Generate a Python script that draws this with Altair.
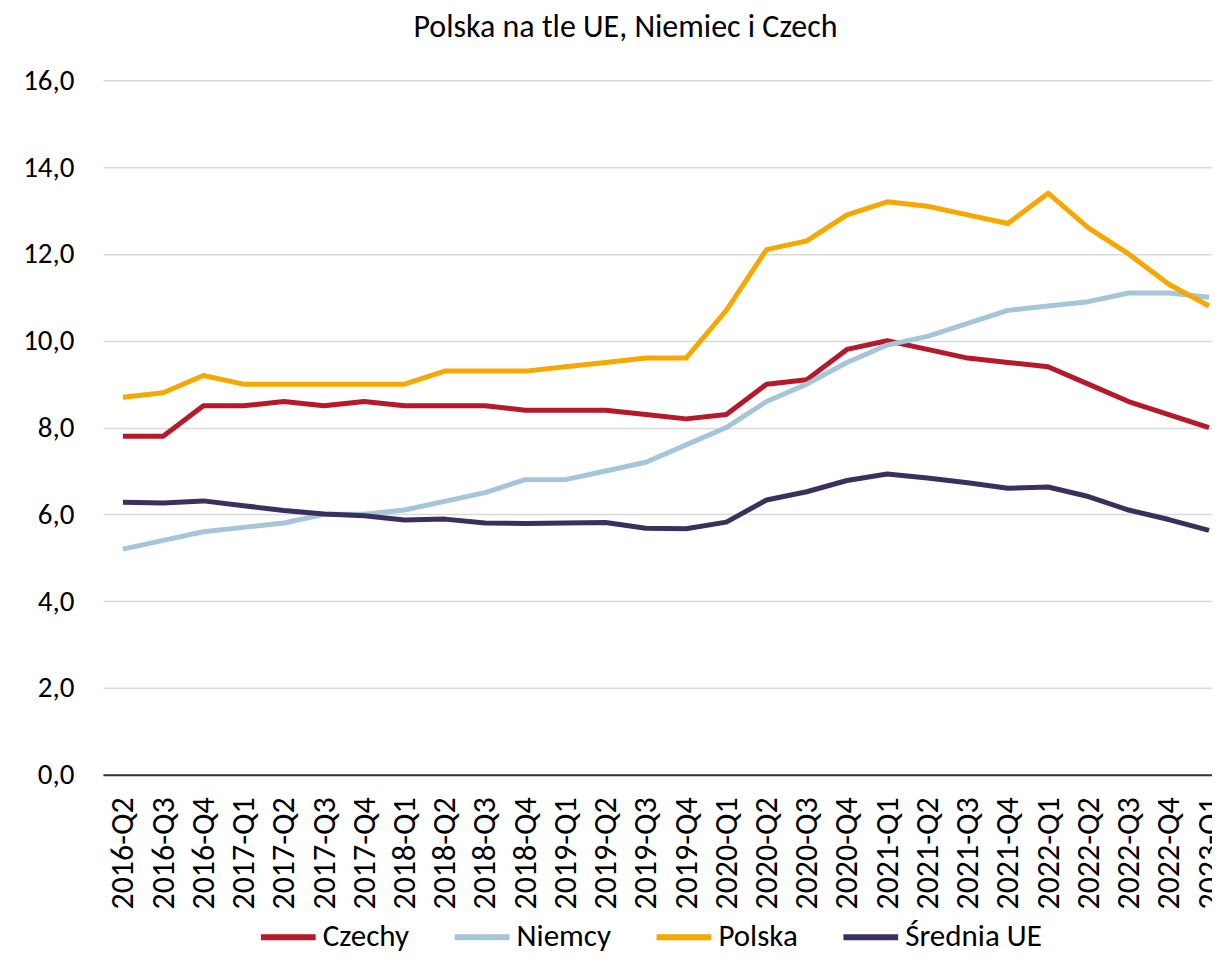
import altair as alt
import pandas as pd

quarters = ["2016-Q2", "2016-Q3", "2016-Q4", "2017-Q1", "2017-Q2", "2017-Q3", "2017-Q4",
            "2018-Q1", "2018-Q2", "2018-Q3", "2018-Q4", "2019-Q1", "2019-Q2", "2019-Q3",
            "2019-Q4", "2020-Q1", "2020-Q2", "2020-Q3", "2020-Q4", "2021-Q1", "2021-Q2",
            "2021-Q3", "2021-Q4", "2022-Q1", "2022-Q2", "2022-Q3", "2022-Q4", "2023-Q1"]

czechy = [7.8, 7.8, 8.5, 8.5, 8.6, 8.5, 8.6, 8.5, 8.5, 8.5, 8.4, 8.4, 8.4, 8.3,
          8.2, 8.3, 9.0, 9.1, 9.8, 10.0, 9.8, 9.6, 9.5, 9.4, 9.0, 8.6, 8.3, 8.0]
niemcy = [5.2, 5.4, 5.6, 5.7, 5.8, 6.0, 6.0, 6.1, 6.3, 6.5, 6.8, 6.8, 7.0, 7.2,
          7.6, 8.0, 8.6, 9.0, 9.5, 9.9, 10.1, 10.4, 10.7, 10.8, 10.9, 11.1, 11.1, 11.0]
polska = [8.7, 8.8, 9.2, 9.0, 9.0, 9.0, 9.0, 9.0, 9.3, 9.3, 9.3, 9.4, 9.5, 9.6,
          9.6, 10.7, 12.1, 12.3, 12.9, 13.2, 13.1, 12.9, 12.7, 13.4, 12.6, 12.0, 11.3, 10.8]
srednia_ue = [6.28, 6.26, 6.31, 6.20, 6.09, 6.01, 5.97, 5.87, 5.89, 5.80, 5.79, 5.80, 5.81, 5.68,
              5.67, 5.82, 6.33, 6.52, 6.78, 6.93, 6.84, 6.73, 6.60, 6.63, 6.41, 6.10, 5.88, 5.63]

series_names = ["Czechy", "Niemcy", "Polska", "Średnia UE"]
series_colors = ["#B5192B", "#A5C5D8", "#F7A800", "#3B2F5E"]
y_ticks = [0, 2, 4, 6, 8, 10, 12, 14, 16]

rows = []
for name, vals in zip(series_names, [czechy, niemcy, polska, srednia_ue]):
    for i, (q, v) in enumerate(zip(quarters, vals)):
        rows.append({"idx": i, "kwartal": q, "wartosc": v, "seria": name})
df = pd.DataFrame(rows)

FONT = "Carlito, Lato, sans-serif"
W = 1110
H = 695

quarter_array = "[" + ",".join("'" + q + "'" for q in quarters) + "]"

lines = alt.Chart(df).mark_line(strokeWidth=5, strokeJoin="round").encode(
    x=alt.X("idx:Q", title=None,
            scale=alt.Scale(domain=[-0.497, 27.074], nice=False, zero=False),
            axis=alt.Axis(values=list(range(len(quarters))),
                          labelExpr=quarter_array + "[datum.value]",
                          labelAngle=-90, labelFontSize=32, labelPadding=22, ticks=False,
                          domain=True, domainColor="#333333", domainWidth=2,
                          labelColor="#000000", labelFont=FONT, grid=False,
                          labelFlush=False, labelOverlap=False, labelBound=False)),
    y=alt.Y("wartosc:Q", title=None,
            scale=alt.Scale(domain=[0, 16], nice=False),
            axis=alt.Axis(values=y_ticks, labelExpr="replace(format(datum.value, '.1f'), '.', ',')",
                          labelFontSize=29, labelPadding=29, ticks=False, domain=False,
                          gridColor="#D9D9D9", gridWidth=1.5, labelColor="#000000",
                          labelFont=FONT)),
    color=alt.Color("seria:N", sort=series_names,
                    scale=alt.Scale(domain=series_names, range=series_colors),
                    legend=alt.Legend(orient="none", legendX=155, legendY=827,
                                      direction="horizontal", title=None, padding=0,
                                      symbolType="stroke", symbolSize=3000, symbolStrokeWidth=6,
                                      labelFontSize=31, labelFont=FONT, labelColor="#000000",
                                      columnPadding=33, labelOffset=4)),
    order=alt.Order("idx:Q"),
)

chart = lines.properties(
    width=W,
    height=H,
    title=alt.TitleParams("Polska na tle UE, Niemiec i Czech", fontSize=32, fontWeight="normal",
                          font=FONT, color="#000000", anchor="middle", frame="group",
                          offset=22, dx=-32),
    autosize=alt.AutoSizeParams(type="none"),
    padding={"left": 95, "top": 72, "right": 0, "bottom": 177},
).configure_view(stroke=None)

chart.save("out.html", embed_options={"renderer": "svg", "actions": False})
